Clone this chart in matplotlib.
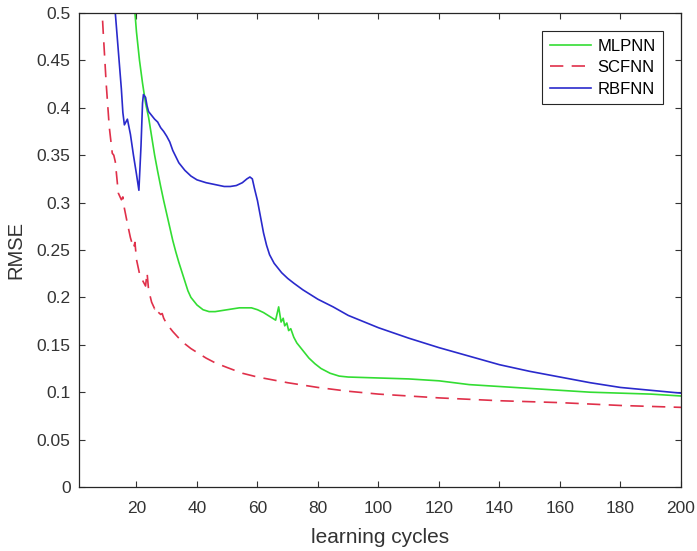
import matplotlib
matplotlib.use("Agg")
import matplotlib.pyplot as plt
from matplotlib.ticker import FuncFormatter

plt.rcParams['font.family'] = ['Liberation Sans', 'DejaVu Sans']

# ---- data ----
scf_x = [7, 8, 9, 10, 11, 12, 12.5, 13, 14, 15, 15.5, 16, 17, 18, 19, 19.5, 20, 21, 22, 23, 23.5,
         24, 25, 26, 26.5, 27, 28, 28.5, 29, 30, 32, 34, 36, 38, 40, 43, 46, 50, 55, 60, 65, 70,
         80, 90, 100, 110, 120, 140, 160, 180, 200]
scf_y = [0.60, 0.54, 0.48, 0.425, 0.38, 0.352, 0.350, 0.343, 0.310, 0.303, 0.306, 0.294, 0.278,
         0.263, 0.252, 0.258, 0.240, 0.225, 0.218, 0.212, 0.226, 0.208, 0.195, 0.188, 0.190, 0.185,
         0.182, 0.183, 0.178, 0.172, 0.164, 0.157, 0.151, 0.146, 0.142, 0.136, 0.131, 0.126, 0.120,
         0.116, 0.113, 0.110, 0.105, 0.101, 0.098, 0.096, 0.094, 0.091, 0.089, 0.086, 0.084]

rbf_x = [12.5, 13, 14, 15, 15.5, 16, 16.5, 17, 17.5, 18, 19, 20, 20.8, 21.5, 22, 22.3, 23, 23.5,
         24, 25, 26, 27, 28, 29, 30, 31, 32, 34, 36, 38, 40, 43, 46, 49, 51, 53, 55, 56.5, 57.5,
         58.3, 59, 60, 61, 62, 63, 64, 65.5, 68, 70, 72, 75, 80, 85, 90, 100, 110, 120, 130, 140,
         150, 160, 170, 180, 190, 200]
rbf_y = [0.53, 0.50, 0.46, 0.42, 0.395, 0.382, 0.385, 0.388, 0.380, 0.372, 0.350, 0.330, 0.313,
         0.360, 0.405, 0.414, 0.411, 0.402, 0.396, 0.392, 0.388, 0.385, 0.379, 0.375, 0.370, 0.364,
         0.355, 0.342, 0.334, 0.328, 0.324, 0.321, 0.319, 0.317, 0.317, 0.318, 0.321, 0.325, 0.327,
         0.325, 0.315, 0.302, 0.285, 0.268, 0.255, 0.245, 0.236, 0.226, 0.220, 0.215, 0.208, 0.198,
         0.190, 0.181, 0.168, 0.157, 0.147, 0.138, 0.129, 0.122, 0.116, 0.110, 0.105, 0.102, 0.099]

mlp_x = [19, 19.5, 20, 21, 22, 23, 24, 25, 26, 27, 28, 29, 30, 31, 32, 33, 34, 35, 36, 37, 38,
         40, 42, 44, 46, 48, 50, 52, 54, 56, 58, 60, 62, 64, 66, 67, 67.8, 68.5, 69, 69.7, 70.3,
         71, 72, 73, 74, 75, 77, 79, 81, 84, 87, 90, 100, 110, 120, 130, 140, 150, 160, 170, 180,
         190, 200]
mlp_y = [0.53, 0.50, 0.48, 0.45, 0.426, 0.405, 0.390, 0.370, 0.350, 0.333, 0.317, 0.302, 0.288,
         0.274, 0.260, 0.248, 0.237, 0.227, 0.217, 0.207, 0.200, 0.192, 0.187, 0.185, 0.185, 0.186,
         0.187, 0.188, 0.189, 0.189, 0.189, 0.187, 0.184, 0.180, 0.176, 0.190, 0.174, 0.178, 0.170,
         0.173, 0.165, 0.167, 0.158, 0.152, 0.148, 0.144, 0.136, 0.130, 0.125, 0.120, 0.117, 0.116,
         0.115, 0.114, 0.112, 0.108, 0.106, 0.104, 0.102, 0.100, 0.099, 0.098, 0.096]

x_ticks = [20, 40, 60, 80, 100, 120, 140, 160, 180, 200]
y_ticks = [0, 0.05, 0.1, 0.15, 0.2, 0.25, 0.3, 0.35, 0.4, 0.45, 0.5]

# ---- figure ----
fig = plt.figure(figsize=(6.97, 5.51), dpi=100)
ax = fig.add_axes([79/697, 64/551, 602/697, 474/551])

ax.plot(mlp_x, mlp_y, color='#33dd33', lw=1.2, label='MLPNN')
ax.plot(scf_x, scf_y, color='#e0304a', lw=1.2, dashes=(8, 5), label='SCFNN')
ax.plot(rbf_x, rbf_y, color='#2a2acc', lw=1.2, label='RBFNN')

ax.set_xlim(1, 200)
ax.set_ylim(0, 0.5)
ax.set_xticks(x_ticks)
ax.set_yticks(y_ticks)
ax.yaxis.set_major_formatter(FuncFormatter(lambda v, p: '%g' % v))
ax.tick_params(direction='in', length=4, width=0.8, top=True, right=True,
               labelsize=12.5, colors='#333333', pad=6)
ax.tick_params(axis='x', pad=10)
for s in ax.spines.values():
    s.set_color('#262626')
    s.set_linewidth(0.9)

ax.set_xlabel('learning cycles', fontsize=15, color='#333333', labelpad=9)
ax.set_ylabel('RMSE', fontsize=14.5, color='#333333', labelpad=8)

leg = ax.legend(loc='upper right', bbox_to_anchor=(0.970, 0.962), borderaxespad=0,
                fontsize=12, handlelength=2.5, handletextpad=0.35, labelspacing=0.4,
                borderpad=0.45, fancybox=False, framealpha=1)
leg.get_frame().set_edgecolor('#262626')
leg.get_frame().set_linewidth(0.8)

fig.savefig('out.png', dpi=100)
